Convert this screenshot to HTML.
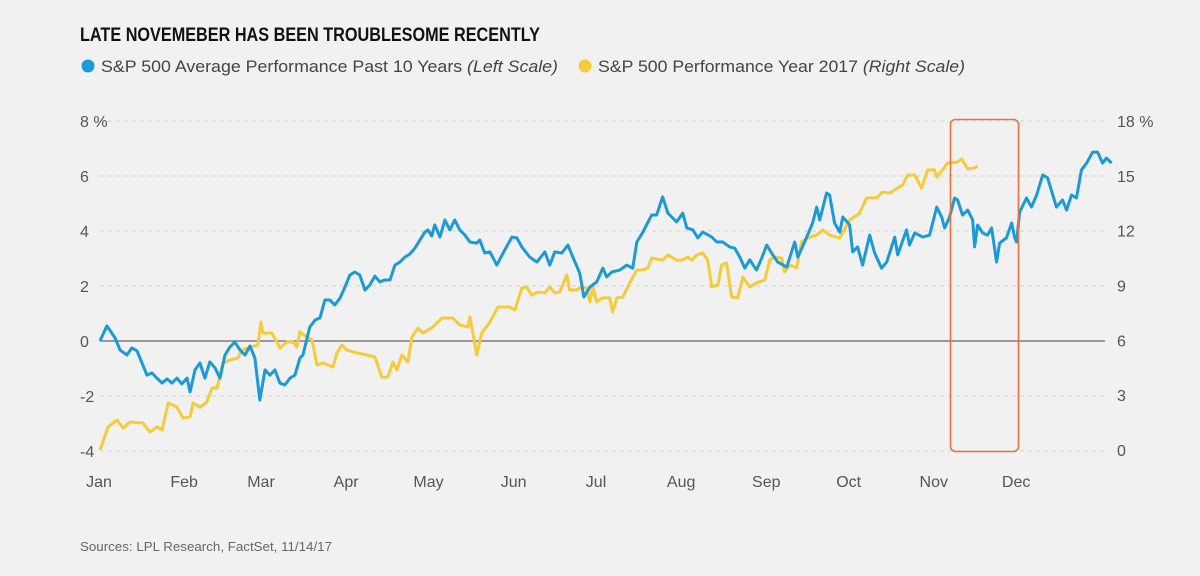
<!DOCTYPE html>
<html><head><meta charset="utf-8"><style>
html,body{margin:0;padding:0;background:#f1f1f1;}
svg{display:block;font-family:"Liberation Sans",sans-serif;}
</style></head><body>
<svg id="chart" width="1200" height="576" viewBox="0 0 1200 576" xmlns="http://www.w3.org/2000/svg">
<rect width="1200" height="576" fill="#f1f1f1"/>
<text x="80" y="41" font-size="19" font-weight="bold" fill="#111" textLength="460" lengthAdjust="spacingAndGlyphs">LATE NOVEMEBER HAS BEEN TROUBLESOME RECENTLY</text>
<g>
<circle cx="88" cy="66" r="6.5" fill="#1b9ad6"/>
<text x="101" y="72" font-size="17" fill="#444" textLength="457" lengthAdjust="spacingAndGlyphs">S&amp;P 500 Average Performance Past 10 Years <tspan font-style="italic">(Left Scale)</tspan></text>
<circle cx="585" cy="66" r="6.5" fill="#f5cb3a"/>
<text x="598" y="72" font-size="17" fill="#444" textLength="367" lengthAdjust="spacingAndGlyphs">S&amp;P 500 Performance Year 2017 <tspan font-style="italic">(Right Scale)</tspan></text>
</g>
<g id="grid"></g><g id="axes"></g><g id="series"></g>
<rect x="950.5" y="119.5" width="68" height="332" rx="5" fill="none" stroke="#e8733a" stroke-width="1.6"/>
<text x="80" y="551" font-size="13" fill="#666" textLength="252" lengthAdjust="spacingAndGlyphs">Sources: LPL Research, FactSet, 11/14/17</text>
</svg>
<script>
const leftTicks=[8,6,4,2,0,-2,-4];
const rightTicks=[18,15,12,9,6,3,0];
const months=["Jan","Feb","Mar","Apr","May","Jun","Jul","Aug","Sep","Oct","Nov","Dec"];
const monthDays=[0,31,59,90,120,151,181,212,243,273,304,334];
const blueDays=[0,2.5,5.5,7.3,9.8,11.6,13.5,15.3,17.1,18.9,20.7,22.6,24.4,26.2,28,29.8,31.7,32.8,34.6,36.4,38.2,40,41.9,43.7,45.5,47.3,49.1,51,52.8,54.6,56.4,58.2,60.1,61.9,63.7,65.5,67.3,69.2,71,72.8,73.9,76.4,78.3,80.1,81.9,83.7,85.5,87.4,89.2,91,92.8,94.6,96.5,98.3,100.1,101.9,103.7,105.6,107.4,109.2,111,112.8,114.7,116.5,118.3,119.4,120.8,121.9,123.8,125.6,127.4,129.2,131,132.9,134.7,137.2,138.3,140.1,142,144.5,147.4,150,151.8,153.6,156.5,159.1,162,163.8,165.6,168.2,170.4,172.2,174.7,176.2,178.4,180.9,183.1,184.5,186.4,189.3,191.8,194,195.5,197.7,200.9,202.7,204.9,206.8,210,212.2,213.7,215.9,217.7,219.5,222.8,224.6,226.8,229.3,231.1,233,234.8,236.6,239.1,241,242.8,245,246.8,250.1,253,254.1,256.6,259.5,261,262.1,264.6,265.7,267.5,269.4,270.5,273,274.1,275.9,277.7,280.3,282.1,284.6,286.5,289.4,290.5,293.7,294.8,296.7,299.6,302.1,304.7,306.5,307.6,309.4,311.2,312.3,314.1,316,317.8,318.5,319.6,321.4,323.2,324.7,326.5,327.6,330.1,332,333.1,333.8,334.9,337.4,339.2,341.1,343.3,345.1,348.3,350.5,352,353.8,355.6,357.4,359.3,361.5,363.3,365.1,366.5,368.4];
const blueVals=[0,0.55,0.11,-0.33,-0.51,-0.25,-0.36,-0.8,-1.24,-1.16,-1.35,-1.53,-1.38,-1.53,-1.35,-1.56,-1.35,-1.85,-1.05,-0.8,-1.35,-0.76,-0.98,-1.35,-0.51,-0.22,-0.04,-0.33,-0.51,-0.18,-0.62,-2.15,-1.05,-1.24,-1.05,-1.53,-1.6,-1.35,-1.24,-0.62,-0.51,0.51,0.76,0.84,1.49,1.49,1.31,1.56,1.96,2.4,2.51,2.4,1.85,2.04,2.36,2.15,2.22,2.22,2.76,2.87,3.05,3.16,3.38,3.67,3.96,4.04,3.82,4.22,3.78,4.4,4.04,4.4,4.04,3.85,3.6,3.56,3.67,3.2,3.24,2.76,3.31,3.78,3.75,3.42,3.05,2.87,3.24,2.76,3.24,3.2,3.49,3.05,2.47,1.6,1.96,2.15,2.65,2.33,2.51,2.58,2.76,2.65,3.6,3.96,4.58,4.58,5.24,4.65,4.33,4.65,4.11,4.04,3.75,3.96,3.78,3.6,3.6,3.42,3.38,3.05,2.65,2.95,2.58,3.02,3.49,3.13,2.87,2.69,3.6,3.05,3.6,4.29,4.87,4.4,5.38,5.31,4.29,3.96,4.51,4.22,3.24,3.42,2.76,3.85,3.2,2.65,2.87,3.78,3.13,4.04,3.49,3.93,3.78,3.85,4.87,4.51,4.11,4.51,5.2,5.13,4.58,4.76,4.4,3.42,4.22,3.93,3.85,4.11,2.87,3.56,3.75,4.29,3.75,3.6,4.69,5.2,4.87,5.31,6.04,5.93,4.87,5.13,4.76,5.31,5.2,6.22,6.47,6.87,6.87,6.47,6.65,6.47];
const yellowDays=[0,2.9,6.2,8.4,10.9,15.7,18.2,20.7,22.6,24.8,28,30.2,32.8,33.9,36.4,38.9,40.8,42.6,44.8,47.3,50.2,51.7,54.6,57.5,58.6,59.3,62.6,65.5,68.1,70.3,71.7,72.8,75.3,77.2,79,81.2,84.8,86.3,88.1,89.9,93.5,97.2,100.1,102.6,104.8,106.7,108.1,109.9,112.1,113.6,115.8,117.6,121.2,124.5,128.5,131,134,134.7,135.8,137.2,139,142,144.9,149.2,151.1,153.6,155.4,157.2,159.4,162,163.8,165.6,167.4,170,171.1,173.6,175.4,177.3,178.4,179.5,180.9,183.1,185.6,186.7,188.2,190.4,192.9,195.5,197.7,199.5,200.9,204.9,206.8,210,212.2,214,215.5,217.3,219.5,221.3,222.8,225,226.4,228.2,230,232.2,234.1,236.6,239.1,242.1,243.9,245.7,248.2,249.3,251.2,253.7,255.5,257.7,261,263.2,265.7,269.4,273,276.6,279.2,282.8,285,287.6,292.3,294.1,296.7,299.2,301.4,303.9,304.7,307.6,308.7,312.3,313.8,316,318.5,319.6];
const yellowVals=[0,1.26,1.64,1.2,1.53,1.48,0.98,1.26,1.09,2.57,2.35,1.75,1.81,2.57,2.35,2.63,3.39,3.39,4.76,4.92,5.03,5.47,5.63,5.74,7.0,6.4,6.4,5.58,5.91,5.91,5.63,6.46,6.18,6.02,4.65,4.76,4.54,5.31,5.74,5.47,5.31,5.2,5.09,3.99,3.99,4.81,4.38,5.2,4.81,6.18,6.67,6.4,6.73,7.22,7.22,6.84,6.73,7.28,6.4,5.2,6.4,7.0,7.82,7.82,7.66,8.86,8.92,8.48,8.64,8.59,8.92,8.59,8.64,9.57,8.75,8.75,8.92,8.86,8.1,8.92,8.1,8.32,8.32,7.55,8.32,8.37,9.14,9.85,9.85,9.96,10.5,10.39,10.67,10.39,10.39,10.56,10.39,10.67,10.78,10.39,8.92,9.03,10.12,10.23,8.37,8.32,9.46,8.92,9.14,9.3,10.39,10.56,10.5,9.74,10.12,9.96,11.38,11.6,11.76,12.04,11.76,11.6,12.58,12.96,13.79,13.79,14.11,14.06,14.5,15.04,15.04,14.33,15.32,15.32,14.93,15.48,15.7,15.75,15.92,15.37,15.43,15.54];

const NS="http://www.w3.org/2000/svg";
const xS=d=>100+d*2.746;
const yL=v=>341-v*27.5;
const yR=v=>450-v*18.28;
function mk(tag,attrs,parent){const e=document.createElementNS(NS,tag);for(const k in attrs)e.setAttribute(k,attrs[k]);parent.appendChild(e);return e;}
const grid=document.getElementById('grid'),axes=document.getElementById('axes'),series=document.getElementById('series');
leftTicks.forEach((t,i)=>{
  const y=yL(t);
  const ln=mk('line',{x1:100,x2:1105,y1:y,y2:y,stroke:t===0?'#666':'#d2d2d2','stroke-width':t===0?1.2:1,'stroke-dasharray':t===0?'none':'4 4'},grid);
  
  
  const lt=mk('text',{x:80,y:y+6,'font-size':16,fill:'#555'},axes);
  lt.textContent=t+(i===0?' %':'');
  
  
  const rv=rightTicks[i];
  const rt=mk('text',{x:1117,y:yR(rv)+6,'font-size':16,fill:'#555'},axes);
  rt.textContent=rv+(i===0?' %':'');
  
  
});
months.forEach((m,i)=>{
  const t=mk('text',{x:xS(monthDays[i])-1,y:487,'font-size':16,fill:'#555','text-anchor':'middle'},axes);
  t.textContent=m;
  
  
});
const yp=mk('polyline',{fill:'none',stroke:'#f5cb3a','stroke-width':3,'stroke-linejoin':'round',points:yellowDays.map((d,i)=>xS(d)+','+yR(yellowVals[i])).join(' ')},series);


const bp=mk('polyline',{fill:'none',stroke:'#1b9ad6','stroke-width':3,'stroke-linejoin':'round',points:blueDays.map((d,i)=>xS(d)+','+yL(blueVals[i])).join(' ')},series);


</script>
</body></html>
